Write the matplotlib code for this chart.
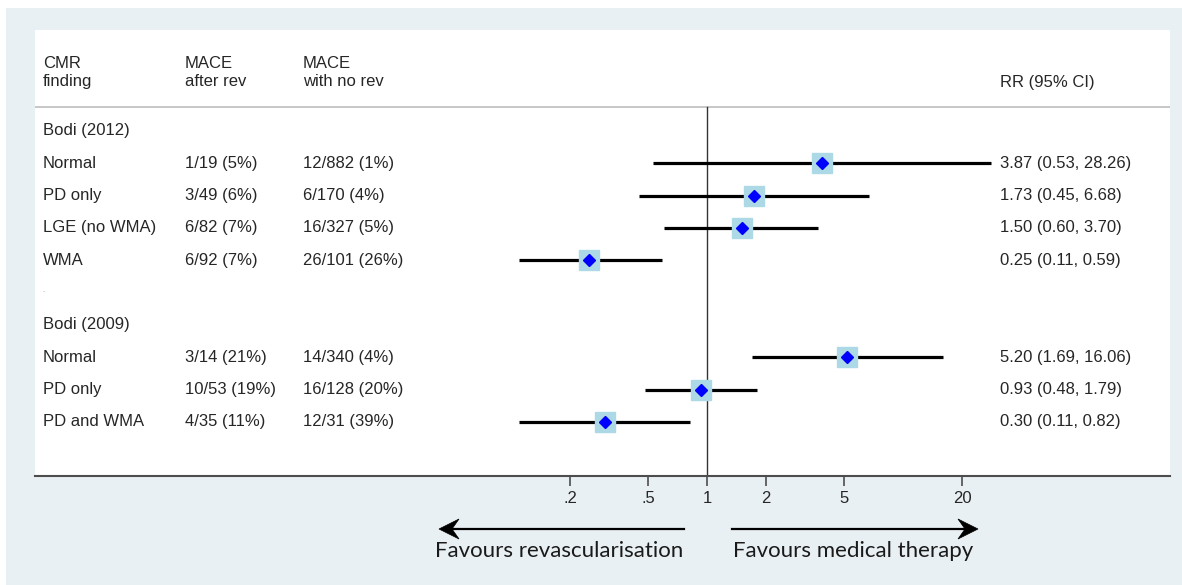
import matplotlib
matplotlib.use("Agg")
import matplotlib.pyplot as plt
from matplotlib.patches import Rectangle, Polygon
from matplotlib.lines import Line2D
from matplotlib.transforms import blended_transform_factory

# Forest plot data: one entry per row (None = study heading / spacer)
labels = ["Bodi (2012)", "Normal", "PD only", "LGE (no WMA)", "WMA", ".",
          "Bodi (2009)", "Normal", "PD only", "PD and WMA"]
after_rev = [None, "1/19 (5%)", "3/49 (6%)", "6/82 (7%)", "6/92 (7%)", None,
             None, "3/14 (21%)", "10/53 (19%)", "4/35 (11%)"]
no_rev = [None, "12/882 (1%)", "6/170 (4%)", "16/327 (5%)", "26/101 (26%)", None,
          None, "14/340 (4%)", "16/128 (20%)", "12/31 (39%)"]
rr = [None, 3.87, 1.73, 1.50, 0.25, None, None, 5.20, 0.93, 0.30]
lo = [None, 0.53, 0.45, 0.60, 0.11, None, None, 1.69, 0.48, 0.11]
hi = [None, 28.26, 6.68, 3.70, 0.59, None, None, 16.06, 1.79, 0.82]

tick_vals = [0.2, 0.5, 1, 2, 5, 20]
tick_labels = [".2", ".5", "1", "2", "5", "20"]

W, H = 1182, 585
fig = plt.figure(figsize=(W / 100, H / 100), dpi=100)
fig.patch.set_facecolor("white")
# light panel behind everything
fig.patches.append(Rectangle((6 / W, 0), 1, 1 - 8 / H, transform=fig.transFigure,
                             facecolor="#e9f0f3", edgecolor="none", zorder=-10))

ax = fig.add_axes([35 / W, (H - 476) / H, 1135 / W, 446 / H])
ax.set_facecolor("white")
ax.set_xscale("log")
px_per_dec = 196.0
ax.set_xlim(10 ** ((35 - 707) / px_per_dec), 10 ** ((1170 - 707) / px_per_dec))
row_h = 32.33
ax.set_ylim((476 - 131) / row_h, (30 - 131) / row_h)

txt = dict(fontsize=12, family="Liberation Sans", color="#262626", va="center")
bt = blended_transform_factory(ax.transAxes, ax.transData)


def colx(px):
    return (px - 35) / 1135


# column headings
ax.text(colx(43), -1.81, "CMR\nfinding", transform=bt, linespacing=1.25, **txt)
ax.text(colx(185), -1.81, "MACE\nafter rev", transform=bt, linespacing=1.25, **txt)
ax.text(colx(303), -1.81, "MACE\nwith no rev", transform=bt, linespacing=1.25, **txt)
ax.text(colx(1000), -1.49, "RR (95% CI)", transform=bt, **txt)

ax.axhline((107 - 131) / row_h, color="#bdbdbd", lw=1.2)
ax.axvline(1, ymin=0, ymax=(476 - 107) / 446, color="#333333", lw=1.0)

for i, lab in enumerate(labels):
    if lab == ".":
        ax.text(colx(42), i, lab, transform=bt, fontsize=5, color="#999999", va="bottom")
        continue
    ax.text(colx(43), i, lab, transform=bt, **txt)
    if after_rev[i]:
        ax.text(colx(185), i, after_rev[i], transform=bt, **txt)
        ax.text(colx(303), i, no_rev[i], transform=bt, **txt)
    if rr[i] is not None:
        ax.plot([lo[i], hi[i]], [i, i], color="black", lw=2.3, solid_capstyle="butt", zorder=3)
        ax.plot(rr[i], i, marker="s", ms=14.5, color="#add8e6", mec="#add8e6", zorder=4)
        ax.plot(rr[i], i, marker="D", ms=6.5, color="#0000ff", mec="#0000ff", zorder=5)
        ax.text(colx(1000), i, f"{rr[i]:.2f} ({lo[i]:.2f}, {hi[i]:.2f})", transform=bt, **txt)

for s in ["top", "left", "right"]:
    ax.spines[s].set_visible(False)
ax.spines["bottom"].set_color("#4d4d4d")
ax.spines["bottom"].set_linewidth(1.5)
ax.set_xticks(tick_vals)
ax.set_xticklabels(tick_labels)
ax.xaxis.set_minor_locator(matplotlib.ticker.NullLocator())
ax.tick_params(axis="x", direction="out", length=7, width=1.2, color="#4d4d4d",
               labelsize=12, labelcolor="#262626", pad=4)
for lab in ax.get_xticklabels():
    lab.set_family("Liberation Sans")
ax.set_yticks([])


# direction arrows under the axis (figure pixel units, y measured from top)
def fig_arrow(x_tail, x_tip, y):
    d = 1 if x_tip > x_tail else -1
    fy = lambda v: 1 - v / H
    fig.add_artist(Line2D([x_tail / W, (x_tip - d * 8) / W], [fy(y), fy(y)],
                          transform=fig.transFigure, color="black", lw=1.6))
    head = [(x_tip, y), (x_tip - d * 20, y - 10), (x_tip - d * 13, y),
            (x_tip - d * 20, y + 10)]
    fig.add_artist(Polygon([(x / W, fy(yy)) for x, yy in head], closed=True,
                           transform=fig.transFigure, facecolor="black",
                           edgecolor="black", lw=0.5))


fig_arrow(684, 439, 529)
fig_arrow(732, 978, 529)
fig.text(559 / W, 1 - 551 / H, "Favours revascularisation", ha="center", va="center",
         fontsize=16, family="Lato", color="#1a1a1a")
fig.text(853 / W, 1 - 551 / H, "Favours medical therapy", ha="center", va="center",
         fontsize=16, family="Lato", color="#1a1a1a")

fig.savefig("out.png", dpi=100, facecolor=fig.get_facecolor())
